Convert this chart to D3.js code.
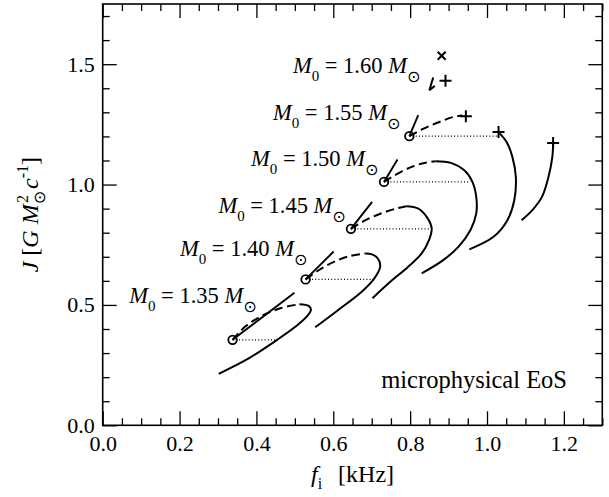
<!DOCTYPE html>
<html><head><meta charset="utf-8">
<script src="https://cdn.jsdelivr.net/npm/d3@7"></script>
<style>body{margin:0;background:#fff} text{white-space:pre}</style>
</head><body><svg id="c" width="609" height="497"></svg>
<script>
// ---------------- data ----------------
const massLabels = ["1.35", "1.40", "1.45", "1.50", "1.55", "1.60"];
// turning points (circles) for 1.35..1.55
const circleF = [0.338, 0.528, 0.646, 0.732, 0.798];
const circleJ = [0.355, 0.606, 0.816, 1.011, 1.201];
// straight solid segments leaving each circle
const tangentEndF = [0.499, 0.601, 0.701, 0.767, 0.821];
const tangentEndJ = [0.551, 0.722, 0.928, 1.104, 1.288];
// dotted horizontal lines from each circle
const dottedEndF = [0.454, 0.705, 0.856, 0.951, 1.030];
// solid branches [f, J]
const solid135 = [[0.302,0.214],[0.381,0.279],[0.454,0.355],[0.502,0.410],[0.530,0.450],[0.542,0.480],[0.536,0.496],[0.512,0.503]];
const solid140 = [[0.553,0.407],[0.613,0.479],[0.674,0.555],[0.705,0.606],[0.722,0.659],[0.716,0.693],[0.699,0.711],[0.684,0.714]];
const solid145 = [[0.702,0.528],[0.744,0.590],[0.795,0.659],[0.830,0.714],[0.849,0.769],[0.856,0.818],[0.843,0.866],[0.820,0.901],[0.790,0.910]];
const solid150 = [[0.830,0.631],[0.886,0.686],[0.926,0.742],[0.957,0.811],[0.972,0.880],[0.972,0.949],[0.962,1.011],[0.941,1.059],[0.906,1.090],[0.866,1.097]];
const solid155 = [[0.954,0.731],[1.017,0.783],[1.053,0.852],[1.071,0.935],[1.075,1.032],[1.066,1.115],[1.051,1.177],[1.030,1.218]];
const solid160 = [[1.090,0.852],[1.118,0.894],[1.143,0.949],[1.160,1.032],[1.170,1.115],[1.172,1.173]];
// dashed branches [f, J]
const dashed135 = [[0.338,0.355],[0.371,0.410],[0.411,0.452],[0.462,0.486],[0.512,0.503]];
const dashed140 = [[0.528,0.606],[0.563,0.645],[0.603,0.680],[0.643,0.703],[0.684,0.714]];
const dashed145 = [[0.646,0.816],[0.684,0.852],[0.724,0.880],[0.765,0.901],[0.790,0.910]];
const dashed150 = [[0.732,1.011],[0.775,1.052],[0.810,1.077],[0.840,1.091],[0.866,1.097]];
const dashed155 = [[0.798,1.201],[0.835,1.232],[0.876,1.260],[0.911,1.280],[0.936,1.287]];
// M0 = 1.60 short pieces
const solid160b = [[0.860,1.445],[0.850,1.392]];
const dashed160b = [[0.850,1.392],[0.864,1.410]];
// end markers
const plusF = [0.945, 1.030, 1.172, 0.892];
const plusJ = [1.284, 1.218, 1.173, 1.431];
const crossF = [0.882];
const crossJ = [1.535];
// axes ticks
const xMajor = [0, 0.2, 0.4, 0.6, 0.8, 1.0, 1.2];
const yMajor = [0, 0.5, 1.0, 1.5];
const annotation = "microphysical EoS";

// ---------------- drawing ----------------
const svg = d3.select("#c");
const L = 102.7, R = 602.3, T = 4, B = 425.3;
const x = d3.scaleLinear().domain([0, 1.3]).range([L, R]);
const y = d3.scaleLinear().domain([0, 1.75]).range([B, T]);
const serif = "'Liberation Serif', 'Times New Roman', 'DejaVu Serif', serif";
const sym = "'DejaVu Sans', sans-serif";

const xMinor = d3.range(0, 1.3001, 0.05).filter(v => Math.abs(v/0.2 - Math.round(v/0.2)) > 1e-6);
const yMinor = d3.range(0, 1.7501, 0.1).filter(v => Math.abs(v/0.5 - Math.round(v/0.5)) > 1e-6);

function styleAxis(g) {
  g.select(".domain").remove();
  g.selectAll(".tick line").attr("stroke", "#000").attr("stroke-width", 1.3);
  g.selectAll("text").attr("fill", "#000").style("font-family", serif).style("font-size", "22px");
}
const fmt = d3.format(".1f");
svg.append("g").attr("transform", `translate(0,${B})`)
  .call(d3.axisBottom(x).tickValues(xMajor).tickSize(-14).tickSizeOuter(0).tickPadding(10).tickFormat(fmt)).call(styleAxis);
svg.append("g").attr("transform", `translate(0,${B})`)
  .call(d3.axisBottom(x).tickValues(xMinor).tickSize(-7).tickSizeOuter(0).tickFormat("")).call(styleAxis);
svg.append("g").attr("transform", `translate(0,${T})`)
  .call(d3.axisTop(x).tickValues(xMajor).tickSize(-14).tickSizeOuter(0).tickFormat("")).call(styleAxis);
svg.append("g").attr("transform", `translate(0,${T})`)
  .call(d3.axisTop(x).tickValues(xMinor).tickSize(-7).tickSizeOuter(0).tickFormat("")).call(styleAxis);
svg.append("g").attr("transform", `translate(${L},0)`)
  .call(d3.axisLeft(y).tickValues(yMajor).tickSize(-14).tickSizeOuter(0).tickPadding(8).tickFormat(fmt)).call(styleAxis);
svg.append("g").attr("transform", `translate(${L},0)`)
  .call(d3.axisLeft(y).tickValues(yMinor).tickSize(-7).tickSizeOuter(0).tickFormat("")).call(styleAxis);
svg.append("g").attr("transform", `translate(${R},0)`)
  .call(d3.axisRight(y).tickValues(yMajor).tickSize(-14).tickSizeOuter(0).tickFormat("")).call(styleAxis);
svg.append("g").attr("transform", `translate(${R},0)`)
  .call(d3.axisRight(y).tickValues(yMinor).tickSize(-7).tickSizeOuter(0).tickFormat("")).call(styleAxis);

svg.append("rect").attr("x", L).attr("y", T).attr("width", R - L).attr("height", B - T)
  .attr("fill", "none").attr("stroke", "#000").attr("stroke-width", 1.6);

const line = d3.line().x(d => x(d[0])).y(d => y(d[1])).curve(d3.curveCatmullRom.alpha(0.5));
const g = svg.append("g");
[solid135, solid140, solid145, solid150, solid155, solid160].forEach(s => {
  g.append("path").attr("d", line(s)).attr("fill", "none").attr("stroke", "#000").attr("stroke-width", 2);
});
[dashed135, dashed140, dashed145, dashed150, dashed155].forEach(s => {
  g.append("path").attr("d", line(s)).attr("fill", "none").attr("stroke", "#000").attr("stroke-width", 2)
   .attr("stroke-dasharray", "8.5,4.5");
});
g.append("path").attr("d", d3.line().x(d => x(d[0])).y(d => y(d[1]))(solid160b))
  .attr("fill", "none").attr("stroke", "#000").attr("stroke-width", 2);
g.append("path").attr("d", d3.line().x(d => x(d[0])).y(d => y(d[1]))(dashed160b))
  .attr("fill", "none").attr("stroke", "#000").attr("stroke-width", 2);

circleF.forEach((f, i) => {
  g.append("line").attr("x1", x(f)).attr("y1", y(circleJ[i])).attr("x2", x(tangentEndF[i])).attr("y2", y(tangentEndJ[i]))
    .attr("stroke", "#000").attr("stroke-width", 1.9);
  g.append("line").attr("x1", x(f)).attr("y1", y(circleJ[i])).attr("x2", x(dottedEndF[i])).attr("y2", y(circleJ[i]))
    .attr("stroke", "#000").attr("stroke-width", 1.1).attr("stroke-dasharray", "1,2.2");
  g.append("circle").attr("cx", x(f)).attr("cy", y(circleJ[i])).attr("r", 4.3)
    .attr("fill", "none").attr("stroke", "#000").attr("stroke-width", 1.8);
});
plusF.forEach((f, i) => {
  const cx = x(f), cy = y(plusJ[i]), s = 6;
  g.append("path").attr("d", `M${cx - s},${cy}H${cx + s}M${cx},${cy - s}V${cy + s}`)
    .attr("stroke", "#000").attr("stroke-width", 2);
});
crossF.forEach((f, i) => {
  const cx = x(f), cy = y(crossJ[i]), s = 4;
  g.append("path").attr("d", `M${cx - s},${cy - s}L${cx + s},${cy + s}M${cx - s},${cy + s}L${cx + s},${cy - s}`)
    .attr("stroke", "#000").attr("stroke-width", 2);
});

// mass labels (anchor in data units: left end / baseline)
const labelAnchors = [[0.069,0.508],[0.201,0.702],[0.301,0.883],[0.386,1.076],[0.443,1.269],[0.495,1.465]];
massLabels.forEach((m, i) => {
  const t = svg.append("text").attr("x", x(labelAnchors[i][0])).attr("y", y(labelAnchors[i][1]))
    .style("font-family", serif).style("font-size", "22.5px").attr("fill", "#000");
  t.append("tspan").style("font-style", "italic").text("M");
  t.append("tspan").attr("dy", 8).style("font-size", "15px").text("0");
  t.append("tspan").attr("dy", -8).text(" = " + m + " ");
  t.append("tspan").style("font-style", "italic").text("M");
  t.append("tspan").attr("dy", 9).attr("dx", 0).style("font-size", "16px").style("font-family", sym).text("\u2299");
});

svg.append("text").attr("x", 567).attr("y", 388).attr("text-anchor", "end")
  .style("font-family", serif).style("font-size", "24.5px").text(annotation);

// x title
const xt = svg.append("text").attr("x", x(0.65)).attr("y", 482).attr("text-anchor", "middle")
  .style("font-family", serif).style("font-size", "24px");
xt.append("tspan").style("font-style", "italic").text("f");
xt.append("tspan").attr("dy", 7).style("font-size", "16px").text("i");
xt.append("tspan").attr("dy", -7).attr("dx", 10).text(" [kHz]");

// y title
const yt = svg.append("text").attr("transform", `translate(38,${(T + B) / 2}) rotate(-90)`).attr("text-anchor", "middle")
  .style("font-family", serif).style("font-size", "24px");
yt.append("tspan").style("font-style", "italic").text("J");
yt.append("tspan").text(" [");
yt.append("tspan").style("font-style", "italic").text("G M");
yt.append("tspan").attr("dy", 7).style("font-size", "16px").style("font-family", sym).text("\u2299");
yt.append("tspan").attr("dy", -17).attr("dx", -12).style("font-size", "16px").text("2");
yt.append("tspan").attr("dy", 10).style("font-style", "italic").text(" c");
yt.append("tspan").attr("dy", -10).style("font-size", "16px").text("-1");
yt.append("tspan").attr("dy", 10).text("]");
</script></body></html>
